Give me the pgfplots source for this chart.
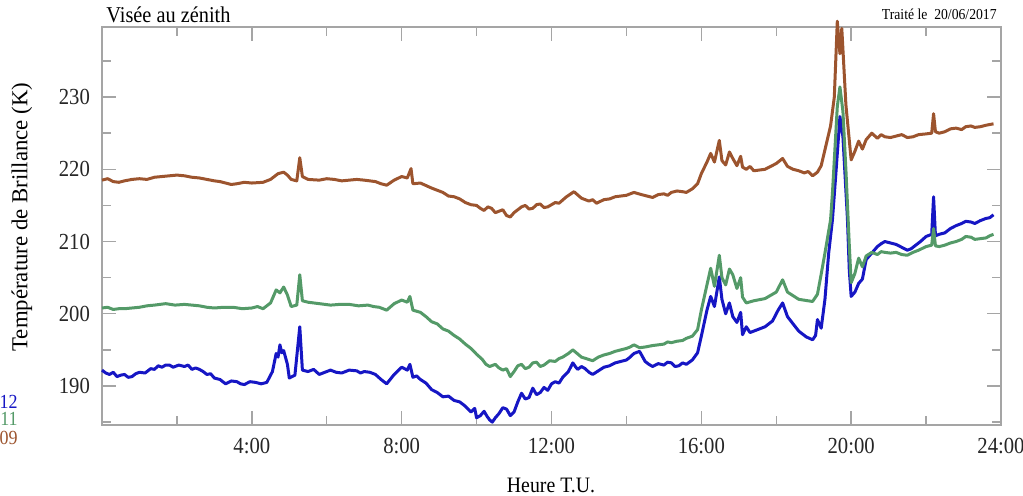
\documentclass[border=0pt]{standalone}
\usepackage{fontspec}
\setmainfont{Liberation Serif}[FakeStretch=0.9]
\newfontfamily\ylabfont{Liberation Serif}
\usepackage{pgfplots}
\pgfplotsset{compat=1.18}

\definecolor{brun}{RGB}{156,84,46}
\definecolor{vert}{RGB}{84,154,104}
\definecolor{bleu}{RGB}{22,22,196}
\definecolor{cadre}{RGB}{165,165,165}

\begin{document}
\begin{tikzpicture}
% page = 1023x495 px at 0.5pt/px, axis box lower-left at (0,0)
\useasboundingbox (-51pt,-35pt) rectangle (460.5pt,212.5pt);
\begin{axis}[
  scale only axis,
  width=449.5pt, height=199pt,
  xmin=0, xmax=24, ymin=184.6, ymax=239.7,
  clip=false,
  axis line style={cadre, line width=0.7pt},
  tick style={cadre, line width=0.7pt},
  major tick length=7pt, minor tick length=4.5pt,
  xtick={4,8,12,16,20,24},
  xticklabels={4:00,8:00,12:00,16:00,20:00,24:00},
  minor xtick={2,6,10,14,18,22},
  ytick={190,200,210,220,230},
  minor ytick={185,195,205,215,225,235},
  ticklabel style={font=\fontsize{11.5}{13}\selectfont, text=black!85},
  xticklabel style={yshift=-3pt},
  yticklabel style={xshift=-2.5pt},
  /pgf/number format/assume math mode=true,
  every axis plot/.append style={line width=1.5pt, line join=round, mark=none},
]
\addplot[brun] coordinates {
(0.0,218.5) (0.15,218.7) (0.3,218.3) (0.45,218.2) (0.6,218.4) (0.8,218.6) (1.0,218.7) (1.2,218.6)
(1.4,218.9) (1.6,219.0) (1.8,219.1) (2.0,219.2) (2.2,219.1) (2.4,218.9) (2.6,218.8) (2.8,218.6)
(3.0,218.4) (3.15,218.3) (3.3,218.1) (3.45,217.9) (3.6,218.0) (3.8,218.2) (4.0,218.1) (4.3,218.2)
(4.5,218.6) (4.7,219.4) (4.85,219.6) (4.95,219.2) (5.05,218.6) (5.2,218.4) (5.28,221.6) (5.35,219.0)
(5.5,218.6) (5.8,218.5) (6.0,218.7) (6.2,218.6) (6.4,218.4) (6.6,218.5) (6.8,218.6) (7.0,218.5)
(7.15,218.4) (7.3,218.3) (7.45,218.0) (7.6,217.8) (7.8,218.5) (8.0,219.0) (8.15,218.8) (8.25,220.1)
(8.3,218.0) (8.5,218.1) (8.8,217.4) (9.1,216.8) (9.25,216.3) (9.4,216.2) (9.55,215.9) (9.7,215.4)
(9.85,215.1) (10.0,215.0) (10.1,214.6) (10.2,214.3) (10.3,214.8) (10.4,214.6) (10.5,214.0) (10.6,214.2)
(10.7,214.4) (10.8,213.6) (10.9,213.4) (11.0,214.0) (11.1,214.4) (11.2,214.8) (11.3,215.0) (11.4,214.5)
(11.5,214.6) (11.6,215.1) (11.7,215.2) (11.8,214.7) (11.9,214.8) (12.0,215.1) (12.1,215.4) (12.2,215.3)
(12.4,216.2) (12.6,216.9) (12.8,216.0) (13.0,215.6) (13.1,215.8) (13.2,215.3) (13.4,215.8) (13.55,215.9)
(13.7,216.2) (13.85,216.3) (14.0,216.4) (14.1,216.6) (14.2,216.8) (14.4,216.5) (14.55,216.3) (14.7,216.1)
(14.85,216.5) (15.0,216.6) (15.1,216.4) (15.2,216.8) (15.35,217.0) (15.5,216.9) (15.6,216.8) (15.76,217.3)
(15.9,218.0) (16.0,219.4) (16.15,221.0) (16.25,222.2) (16.35,221.0) (16.48,224.0) (16.55,221.2) (16.65,220.6)
(16.75,222.4) (16.84,221.5) (16.95,220.5) (17.05,221.8) (17.1,220.3) (17.2,220.0) (17.3,220.4) (17.4,219.8)
(17.55,219.9) (17.7,220.0) (17.85,220.4) (18.0,220.8) (18.17,221.5) (18.3,220.4) (18.45,220.0) (18.6,219.8)
(18.75,219.5) (18.85,219.7) (18.97,219.1) (19.1,219.6) (19.2,220.5) (19.3,222.7) (19.45,226.0) (19.55,230.0)
(19.63,240.5) (19.7,236.0) (19.75,239.5) (19.86,228.9) (19.95,224.0) (20.0,221.3) (20.1,222.5) (20.2,223.9)
(20.3,222.8) (20.4,224.1) (20.55,225.0) (20.7,224.3) (20.8,224.8) (20.9,224.5) (21.05,224.4) (21.2,224.6)
(21.35,224.8) (21.5,224.4) (21.65,224.5) (21.8,224.8) (22.0,224.9) (22.15,225.0) (22.2,227.7) (22.25,225.2)
(22.35,225.0) (22.5,225.2) (22.65,225.6) (22.8,225.7) (22.95,225.5) (23.06,225.9) (23.2,226.0) (23.3,225.8)
(23.45,225.9) (23.6,226.1) (23.7,226.2) (23.8,226.3)
};
\addplot[bleu] coordinates {
(0.0,192.2) (0.1,191.8) (0.2,191.6) (0.3,191.9) (0.4,191.3) (0.5,191.5) (0.6,191.6) (0.7,191.2)
(0.8,191.3) (0.9,191.7) (1.0,191.9) (1.15,191.8) (1.3,192.4) (1.4,192.3) (1.5,192.8) (1.6,192.6)
(1.7,192.9) (1.8,192.9) (1.9,192.6) (2.05,192.9) (2.2,192.7) (2.3,192.9) (2.4,192.3) (2.5,192.5)
(2.6,192.3) (2.7,192.0) (2.8,191.6) (2.9,191.7) (3.0,191.1) (3.15,190.9) (3.3,190.3) (3.45,190.7)
(3.6,190.6) (3.7,190.3) (3.8,190.2) (3.95,190.6) (4.1,190.5) (4.25,190.3) (4.4,190.5) (4.55,192.0)
(4.65,194.5) (4.7,194.0) (4.75,195.7) (4.8,194.6) (4.85,194.9) (4.95,193.0) (5.0,191.1) (5.15,191.5)
(5.28,198.2) (5.35,192.2) (5.5,192.0) (5.65,192.3) (5.8,191.6) (5.95,191.9) (6.1,192.2) (6.25,191.9)
(6.4,191.8) (6.6,192.2) (6.8,192.1) (6.9,191.8) (7.0,192.0) (7.15,191.9) (7.3,191.6) (7.45,190.9)
(7.6,190.3) (7.8,191.6) (7.9,192.1) (8.0,192.6) (8.15,192.2) (8.22,193.0) (8.3,191.2) (8.4,191.4)
(8.5,190.9) (8.65,190.4) (8.8,189.5) (8.95,189.1) (9.1,188.5) (9.25,188.6) (9.4,188.0) (9.55,187.8)
(9.7,187.2) (9.85,186.4) (9.95,186.9) (10.0,185.6) (10.1,185.9) (10.2,186.5) (10.28,185.8) (10.35,185.3)
(10.42,185.0) (10.5,185.6) (10.6,186.2) (10.7,187.0) (10.8,186.8) (10.9,185.9) (11.0,186.4) (11.1,187.8)
(11.2,189.0) (11.3,188.2) (11.4,188.4) (11.5,189.7) (11.6,188.8) (11.7,189.1) (11.8,189.8) (11.9,189.4)
(12.0,190.3) (12.1,190.6) (12.2,190.4) (12.3,191.2) (12.45,192.0) (12.57,193.2) (12.65,192.6) (12.7,192.3)
(12.8,192.7) (12.9,192.4) (13.0,191.9) (13.1,191.6) (13.25,192.1) (13.4,192.6) (13.55,192.8) (13.7,193.2)
(13.85,193.4) (14.0,193.6) (14.1,194.0) (14.2,194.5) (14.35,194.8) (14.5,193.4) (14.6,193.0) (14.7,192.7)
(14.85,193.1) (15.0,192.9) (15.1,193.3) (15.2,193.2) (15.3,192.7) (15.4,192.8) (15.5,193.2) (15.6,193.0)
(15.76,193.6) (15.9,194.6) (16.0,196.9) (16.15,200.5) (16.25,202.4) (16.35,201.0) (16.48,205.1) (16.55,202.0)
(16.65,200.0) (16.75,201.5) (16.84,199.6) (16.95,198.8) (17.05,200.2) (17.1,197.1) (17.2,198.2) (17.3,197.4)
(17.5,197.8) (17.7,198.2) (17.9,199.0) (18.05,200.5) (18.17,201.5) (18.3,199.6) (18.6,197.6) (18.8,196.8)
(18.97,196.4) (19.05,197.0) (19.1,199.2) (19.2,198.0) (19.3,202.0) (19.4,208.4) (19.5,213.0) (19.6,220.0)
(19.7,227.3) (19.78,224.5) (19.9,213.2) (19.95,206.0) (20.0,202.4) (20.1,203.0) (20.2,204.2) (20.3,204.8)
(20.4,207.5) (20.55,208.4) (20.65,209.0) (20.7,209.3) (20.8,209.7) (20.9,210.0) (21.05,209.8) (21.2,209.6)
(21.35,209.2) (21.5,208.8) (21.6,209.0) (21.7,209.4) (21.85,210.0) (22.0,210.7) (22.15,211.0) (22.2,216.2)
(22.25,210.8) (22.35,211.0) (22.5,211.2) (22.65,211.8) (22.8,212.2) (22.95,212.5) (23.06,212.8) (23.2,212.7)
(23.3,212.5) (23.45,212.9) (23.6,213.2) (23.7,213.3) (23.8,213.7)
};
\addplot[vert] coordinates {
(0.0,200.8) (0.15,200.9) (0.3,200.6) (0.45,200.7) (0.6,200.7) (0.8,200.8) (1.0,200.9) (1.2,201.1)
(1.4,201.2) (1.55,201.3) (1.7,201.4) (1.95,201.2) (2.2,201.3) (2.4,201.2) (2.6,201.1) (2.8,200.9)
(3.0,200.8) (3.25,200.9) (3.5,200.9) (3.75,200.7) (4.0,200.8) (4.15,201.0) (4.3,200.7) (4.5,201.5)
(4.65,203.3) (4.75,202.9) (4.85,203.7) (4.95,202.6) (5.05,201.0) (5.2,201.2) (5.28,205.4) (5.35,201.8)
(5.5,201.6) (5.8,201.4) (6.1,201.2) (6.35,201.3) (6.6,201.3) (6.85,201.1) (7.1,201.2) (7.25,201.0)
(7.4,200.9) (7.6,200.5) (7.8,201.4) (8.0,201.9) (8.15,201.6) (8.22,202.4) (8.3,200.5) (8.5,200.2)
(8.65,199.6) (8.8,198.9) (8.95,198.6) (9.1,197.9) (9.25,197.6) (9.4,197.0) (9.55,196.5) (9.7,195.8)
(9.85,195.2) (10.0,194.4) (10.15,193.7) (10.25,193.0) (10.35,192.7) (10.5,193.0) (10.6,192.5) (10.7,192.2)
(10.8,192.4) (10.9,191.3) (11.0,192.0) (11.1,192.8) (11.2,193.0) (11.3,192.4) (11.4,192.6) (11.5,193.2)
(11.6,193.3) (11.7,192.7) (11.8,192.9) (11.95,193.5) (12.1,193.4) (12.2,193.8) (12.3,194.0) (12.45,194.5)
(12.57,195.0) (12.8,194.0) (13.1,193.5) (13.25,194.0) (13.4,194.3) (13.55,194.5) (13.7,194.8) (13.85,195.0)
(14.0,195.2) (14.1,195.4) (14.2,195.7) (14.35,195.3) (14.5,195.4) (14.7,195.6) (15.0,195.8) (15.1,196.1)
(15.2,196.0) (15.35,196.2) (15.5,196.3) (15.6,196.6) (15.76,196.9) (15.9,197.8) (16.0,200.5) (16.15,204.0)
(16.25,206.3) (16.35,203.8) (16.48,208.1) (16.55,205.0) (16.65,204.0) (16.75,206.2) (16.84,205.4) (16.95,203.5)
(17.05,205.0) (17.1,202.3) (17.2,201.5) (17.4,201.8) (17.7,202.1) (18.0,203.0) (18.17,204.7) (18.3,203.0)
(18.6,202.0) (18.97,201.7) (19.1,202.7) (19.2,205.5) (19.3,208.4) (19.45,213.0) (19.5,216.7) (19.63,228.7)
(19.7,231.4) (19.78,228.0) (19.86,219.9) (19.95,209.5) (20.0,204.3) (20.1,205.6) (20.2,207.7) (20.3,206.5)
(20.4,208.0) (20.55,208.5) (20.7,208.2) (20.8,208.6) (20.9,208.5) (21.05,208.4) (21.2,208.5) (21.35,208.2)
(21.5,208.1) (21.65,208.5) (21.8,208.8) (22.0,209.3) (22.15,209.5) (22.2,211.8) (22.25,209.4) (22.35,209.3)
(22.5,209.5) (22.65,209.8) (22.8,210.0) (22.95,210.3) (23.06,210.7) (23.2,210.6) (23.3,210.3) (23.45,210.4)
(23.6,210.5) (23.7,210.8) (23.8,211.0)
};
\end{axis}
% titles and labels, placed in px of the reference converted to pt
\node[anchor=base west, inner sep=0pt, font=\fontsize{11.3}{13}\selectfont] at (2pt,201.5pt) {Visée au zénith};
\node[anchor=base east, inner sep=0pt, font=\fontsize{7.6}{9}\selectfont] at (447.5pt,203pt) {Traité le\ \ 20/06/2017};
\node[rotate=90, inner sep=0pt, font=\ylabfont\fontsize{11.4}{13}\selectfont] at (-40pt,104pt) {Température de Brillance (K)};
\node[anchor=base, inner sep=0pt, font=\fontsize{11}{13}\selectfont] at (224.5pt,-33.5pt) {Heure T.U.};
\node[anchor=base east, inner sep=0pt, text=bleu, font=\fontsize{10}{11}\selectfont] at (-42pt,8.5pt) {12};
\node[anchor=base east, inner sep=0pt, text=vert, font=\fontsize{10}{11}\selectfont] at (-42pt,0pt) {11};
\node[anchor=base east, inner sep=0pt, text=brun, font=\fontsize{10}{11}\selectfont] at (-42pt,-9.5pt) {09};
\end{tikzpicture}
\end{document}
